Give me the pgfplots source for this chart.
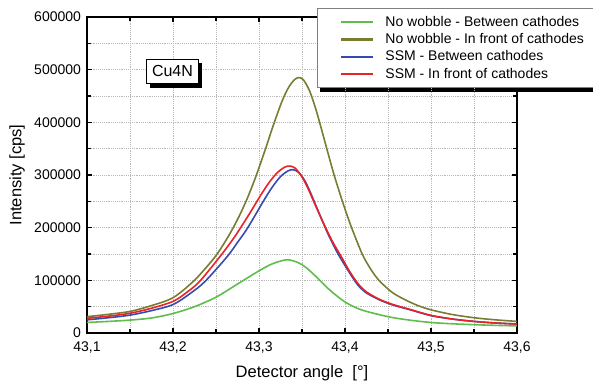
\documentclass[border=0pt]{standalone}
\usepackage{fontspec}
\setmainfont{Liberation Sans}
\usepackage{pgfplots}
\pgfplotsset{compat=1.18}
\usetikzlibrary{shadows,backgrounds}
\definecolor{cgreen}{RGB}{95,190,75}
\definecolor{colive}{RGB}{120,125,50}
\definecolor{cblue}{RGB}{55,75,175}
\definecolor{cred}{RGB}{232,35,40}
\begin{document}
\begin{tikzpicture}
\useasboundingbox (-65.25pt,-40.5pt) rectangle (379.5pt,249.75pt);
\begin{axis}[
  scale only axis, width=322.5pt, height=237pt,
  at={(0,0)}, anchor=south west,
  xmin=43.1, xmax=43.6, ymin=0, ymax=600000,
  xtick={43.1,43.2,43.3,43.4,43.5,43.6},
  ytick={0,100000,200000,300000,400000,500000,600000},
  minor x tick num=1, minor y tick num=1,
  grid=both,
  major grid style={gray!55, densely dotted, line width=0.5pt},
  minor grid style={gray!55, densely dotted, line width=0.5pt},
  tick align=inside,
  major tick length=3.75pt, minor tick length=3pt,
  tick style={black, line width=0.8pt},
  axis line style={line width=1pt},
  scaled ticks=false,
  /pgf/number format/assume math mode=true,
  tick label style={font=\fontsize{10.5}{12}\selectfont},
  x tick label style={/pgf/number format/fixed, /pgf/number format/fixed zerofill, /pgf/number format/precision=1, /pgf/number format/use comma, yshift=-3pt},
  y tick label style={/pgf/number format/fixed, /pgf/number format/1000 sep={}, xshift=-1pt},
  xlabel={Detector angle\ \ [°]},
  ylabel={Intensity [cps]},
  xlabel style={at={(axis description cs:0.5,-0.1266)}, anchor=center, font=\fontsize{12.4}{14}\selectfont},
  ylabel style={at={(axis description cs:-0.1628,0.5)}, anchor=center, font=\fontsize{12.4}{14}\selectfont},
  legend cell align=left,
  legend style={name=leg, at={(0.535,1.028)}, anchor=north west, draw=gray, fill=white, line width=0.6pt,
    font=\fontsize{10.5}{12.3}\selectfont, inner xsep=13pt, inner ysep=3.5pt, row sep=0pt},
  legend image code/.code={\path[draw=none,fill=none] (-5pt,0pt) -- (31pt,0pt); \draw[#1, line width=1.6pt] (0pt,0pt) -- (24pt,0pt);},
  every axis plot/.append style={line width=1.2pt, smooth, no markers},
]
\addplot[cgreen] coordinates {
(43.100,20000) (43.125,22000) (43.150,24500) (43.175,28500) (43.200,37000)
(43.225,50000) (43.250,68000) (43.275,93000) (43.300,118000) (43.315,131000)
(43.332,139000) (43.345,134000) (43.355,124000) (43.367,106000) (43.382,82000)
(43.400,59000) (43.419,44000) (43.450,31000) (43.475,24500) (43.500,20000)
(43.525,17500) (43.550,15800) (43.575,14500) (43.600,13500)};
\addlegendentry{No wobble - Between cathodes}
\addplot[colive] coordinates {
(43.100,31000) (43.125,35500) (43.150,41000) (43.175,52000) (43.200,67000)
(43.223,97000) (43.240,127000) (43.250,147000) (43.257,164000) (43.267,191000)
(43.277,222000) (43.287,258000) (43.297,300000) (43.307,347000) (43.317,396000)
(43.327,441000) (43.335,468000) (43.342,482000) (43.347,485000) (43.352,480000)
(43.359,459000) (43.367,420000) (43.377,361000) (43.387,302000) (43.397,250000)
(43.407,203000) (43.420,150000) (43.430,121000) (43.440,99000) (43.455,77000)
(43.470,63000) (43.485,52000) (43.500,44000) (43.525,35000) (43.550,29000)
(43.575,25000) (43.600,22000)};
\addlegendentry{No wobble - In front of cathodes}
\addplot[cblue] coordinates {
(43.100,25000) (43.125,29000) (43.150,34000) (43.175,42500) (43.200,54000)
(43.220,75000) (43.237,97500) (43.263,145000) (43.275,172000) (43.285,195000)
(43.295,222000) (43.305,250000) (43.315,276000) (43.325,297000) (43.334,308000)
(43.340,310000) (43.346,305000) (43.353,290000) (43.360,266000) (43.370,227000)
(43.380,189000) (43.390,156000) (43.396,139000) (43.405,115000) (43.415,91000)
(43.425,76000) (43.440,63000) (43.455,53500) (43.475,44500) (43.500,33000)
(43.525,26500) (43.550,22000) (43.575,19000) (43.600,17000)};
\addlegendentry{SSM - Between cathodes}
\addplot[cred] coordinates {
(43.100,28000) (43.125,32000) (43.150,37500) (43.175,47000) (43.200,60000)
(43.215,76000) (43.231,98000) (43.256,148000) (43.271,181000) (43.281,206000)
(43.291,232000) (43.301,259000) (43.311,284000) (43.321,304000) (43.330,315000)
(43.336,317000) (43.342,313000) (43.349,299000) (43.356,278000) (43.366,241000)
(43.376,205000) (43.386,172000) (43.396,144000) (43.405,118000) (43.415,94000)
(43.425,78000) (43.440,64000) (43.455,54500) (43.475,45000) (43.500,33500)
(43.525,26500) (43.550,22000) (43.575,19000) (43.600,17000)};
\addlegendentry{SSM - In front of cathodes}
\node[draw=black, fill=white, line width=0.6pt, font=\fontsize{12}{14}\selectfont,
  inner xsep=4pt, inner ysep=5pt,
  drop shadow={shadow xshift=2.5pt, shadow yshift=-3pt, fill=black, opacity=1}]
  at (axis cs:43.1994,497000) {Cu4N};
\end{axis}
\begin{scope}[on background layer]
\fill[black] ([xshift=2.5pt,yshift=-3pt]leg.south west) rectangle ([xshift=2.5pt,yshift=-3pt]leg.north east);
\end{scope}
\end{tikzpicture}
\end{document}
